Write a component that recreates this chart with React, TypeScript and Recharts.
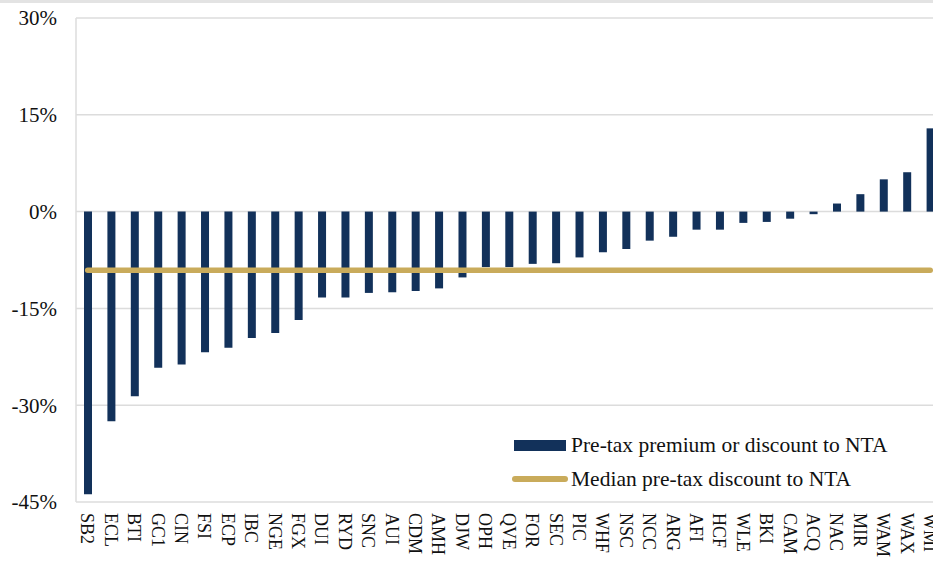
import { ComposedChart, Bar, Line, XAxis, YAxis, CartesianGrid, Legend } from "recharts";

const TICKERS = [
  "SB2", "ECL", "BTI", "GC1", "CIN", "FSI", "ECP", "IBC", "NGE", "FGX",
  "DUI", "RYD", "SNC", "AUI", "CDM", "AMH", "DJW", "OPH", "QVE", "FOR",
  "SEC", "PIC", "WHF", "NSC", "NCC", "ARG", "AFI", "HCF", "WLE", "BKI",
  "CAM", "ACQ", "NAC", "MIR", "WAM", "WAX", "WMI",
];

// pre-tax premium (+) / discount (-) to NTA, %
const PREMIUM = [
  -43.8, -32.5, -28.6, -24.2, -23.7, -21.8, -21.1, -19.6, -18.8, -16.8,
  -13.3, -13.3, -12.6, -12.5, -12.3, -11.9, -10.2, -8.6, -8.6, -8.1,
  -8.0, -7.1, -6.3, -5.8, -4.5, -3.9, -2.8, -2.8, -1.75, -1.6,
  -1.1, -0.4, 1.25, 2.7, 5.0, 6.1, 12.9,
];

const MEDIAN_DISCOUNT = -9.1;
const Y_TICKS = [-45, -30, -15, 0, 15, 30];

const NAVY = "#12315a";
const GOLD = "#c9ab5b";
const GRID = "#dcdcdc";
const FONT = '"Liberation Serif", "Times New Roman", serif';

const rows = TICKERS.map((name, i) => ({ name, premium: PREMIUM[i], median: MEDIAN_DISCOUNT }));

const XTick = ({ x, y, payload }: any) => (
  <text
    x={x}
    y={y}
    transform={`rotate(90, ${x}, ${y})`}
    textAnchor="start"
    dy="0.35em"
    fontSize={18}
    fontFamily={FONT}
    fill="#111"
  >
    {payload.value}
  </text>
);

const YTick = ({ x, y, payload }: any) => (
  <text x={x} y={y} textAnchor="end" dy="0.35em" fontSize={21} fontFamily={FONT} fill="#111">
    {payload.value}%
  </text>
);

const LegendBox = () => (
  <div style={{ fontFamily: FONT, fontSize: 21.5, color: "#111" }}>
    <div style={{ display: "flex", alignItems: "center", height: 34 }}>
      <div style={{ width: 52, height: 11, background: NAVY, marginLeft: 2, marginRight: 5 }} />
      <span>Pre-tax premium or discount to NTA</span>
    </div>
    <div style={{ display: "flex", alignItems: "center", height: 34 }}>
      <div style={{ width: 56, height: 6, borderRadius: 3, background: GOLD, marginRight: 3 }} />
      <span>Median pre-tax discount to NTA</span>
    </div>
  </div>
);

export default function App() {
  return (
    <div style={{ position: "absolute", left: 0, top: 0, width: 933, height: 561, overflow: "hidden", background: "#fff" }}>
      <div style={{ position: "absolute", left: 0, top: 0, width: 933, height: 3, background: "#e3e3e3" }} />
      <ComposedChart width={942} height={561} data={rows} margin={{ top: 18, right: 0, bottom: 0, left: 0 }}>
        <CartesianGrid horizontal vertical={false} stroke={GRID} strokeWidth={1.5} />
        <XAxis
          dataKey="name"
          interval={0}
          axisLine={false}
          tickLine={false}
          height={59}
          tickMargin={5}
          tick={<XTick />}
        />
        <YAxis
          type="number"
          domain={[-45, 30]}
          ticks={Y_TICKS}
          width={76}
          axisLine={{ stroke: GRID, strokeWidth: 1.5 }}
          tickLine={false}
          tickSize={6}
          tickMargin={13}
          tick={<YTick />}
        />
        <Legend
          layout="vertical"
          align="center"
          verticalAlign="middle"
          wrapperStyle={{ left: 512, top: 428, width: 420 }}
          content={<LegendBox />}
        />
        <Bar dataKey="premium" fill={NAVY} barSize={8} isAnimationActive={false} />
        <Line
          dataKey="median"
          stroke={GOLD}
          strokeWidth={5.5}
          strokeLinecap="round"
          dot={false}
          activeDot={false}
          isAnimationActive={false}
        />
      </ComposedChart>
    </div>
  );
}
